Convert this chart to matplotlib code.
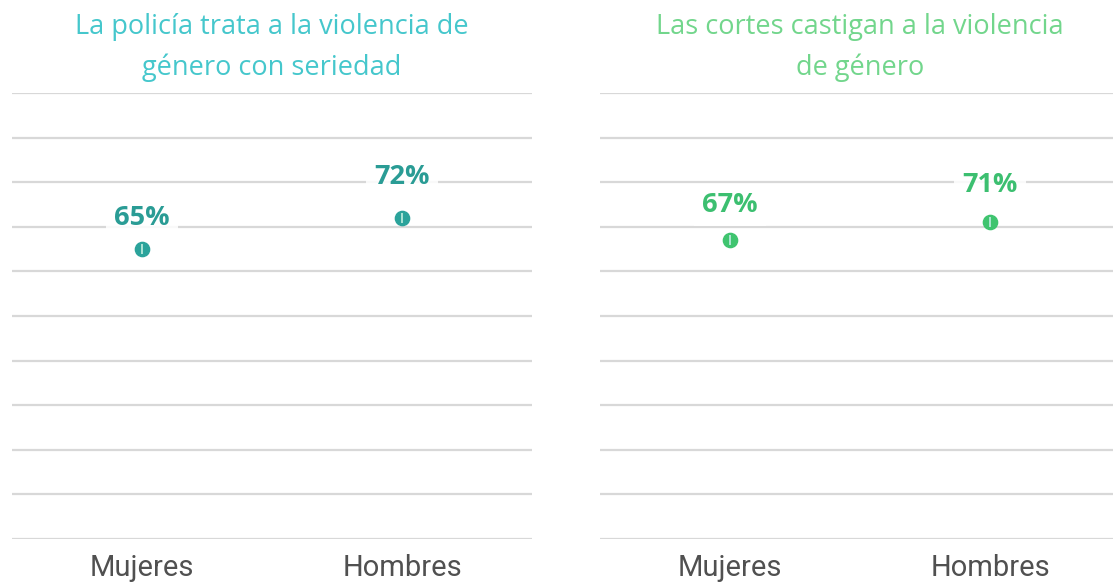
import numpy as np
import matplotlib.pyplot as plt

# datos
categorias = ["Mujeres", "Hombres"]
policia = [65, 72]
cortes = [67, 71]
titulos = [["La policía trata a la violencia de", "género con seriedad"],
           ["Las cortes castigan a la violencia", "de género"]]
color_titulo = ["#45c7cc", "#72d68c"]
color_punto = ["#2ba39b", "#3fc46f"]
color_valor = ["#2a9c95", "#3cbf70"]
# desplazamiento (px) de las etiquetas sobre el punto
desplaz = [[31, 41], [35, 37]]

fig = plt.figure(figsize=(11.13, 5.83), dpi=100)
W, H = 1113, 583
ax1 = fig.add_axes([12 / W, 44 / H, 520 / W, 446 / H])
ax2 = fig.add_axes([600 / W, 44 / H, 520 / W, 446 / H])

for i, (ax, vals) in enumerate(zip([ax1, ax2], [policia, cortes])):
    x = np.arange(len(categorias))
    ax.set_xlim(-0.5, 1.5)
    ax.set_ylim(0, 100)
    ax.set_yticks(np.arange(0, 101, 10))
    ax.yaxis.grid(True, color="#d8d8d8", linewidth=1.6, zorder=0)
    ax.set_axisbelow(True)
    for s in ax.spines.values():
        s.set_visible(False)
    ax.tick_params(axis="y", length=0, labelleft=False)
    ax.tick_params(axis="x", length=0, pad=11, labelsize=21, labelcolor="#505050")
    ax.set_xticks(x)
    ax.set_xticklabels(categorias, family="Roboto")

    ax.scatter(x, vals, s=105, color=color_punto[i], edgecolor=color_punto[i],
               linewidth=1, zorder=3)
    ax.scatter(x, vals, s=45, marker="|", color="#b5e8da", linewidth=1.3, zorder=4)

    for xi, v, d in zip(x, vals, desplaz[i]):
        ax.annotate(f"{v}%", (xi, v), xytext=(0, d), textcoords="offset pixels",
                    ha="center", va="center", fontsize=19.5, fontweight="bold",
                    color=color_valor[i], family="Open Sans", zorder=5,
                    bbox=dict(boxstyle="square,pad=0.3", fc="white", ec="none", alpha=0.85))

    for y_px, linea in zip([27, 68], titulos[i]):
        ax.text(0.5, 1.0 + (93 - y_px) / 446, linea, transform=ax.transAxes, ha="center",
                va="center", fontsize=19.5, color=color_titulo[i], family="Open Sans")

fig.savefig("out.png", dpi=100)
